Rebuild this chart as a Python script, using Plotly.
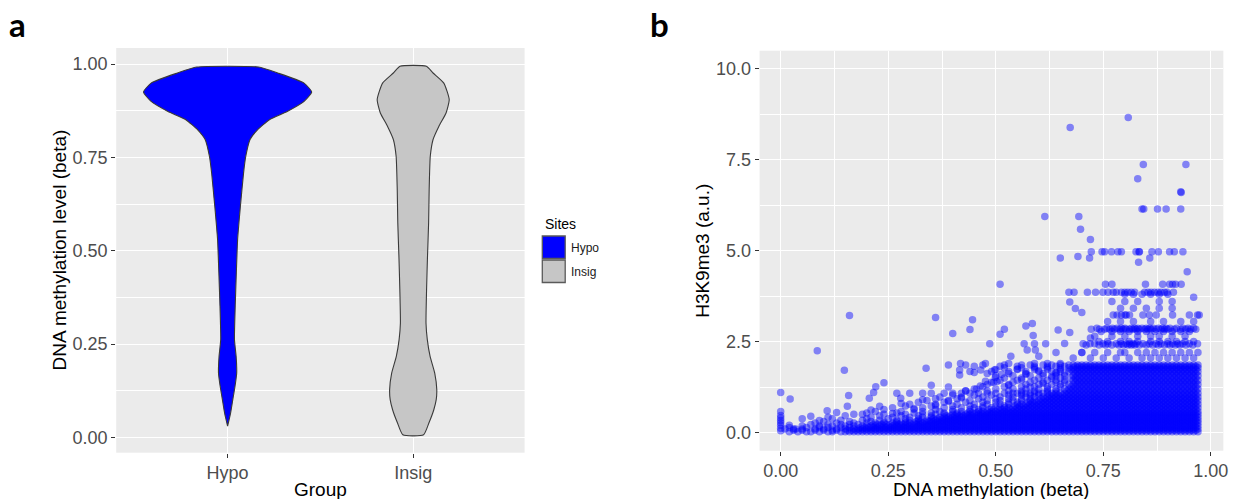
import plotly.graph_objects as go

W, H = 1236, 499

# ---------------- panel a : violin outlines ----------------
GROUPS = ["Hypo", "Insig"]
GROUP_FILL = ["#0000FF", "#C6C6C6"]

# beta level (top -> bottom) and half-width of the violin (category units)
HYPO_BETA = [0.992, 0.976, 0.949, 0.925, 0.900, 0.873, 0.851, 0.824, 0.798,
             0.753, 0.708, 0.619, 0.530, 0.440, 0.351, 0.262, 0.217, 0.172,
             0.137, 0.101, 0.065, 0.030]
HYPO_HALF = [0.166, 0.270, 0.412, 0.453, 0.412, 0.321, 0.225, 0.161, 0.121,
             0.098, 0.086, 0.069, 0.054, 0.047, 0.041, 0.037, 0.046, 0.049,
             0.040, 0.028, 0.016, 0.000]
INSIG_BETA = [0.994, 0.976, 0.949, 0.905, 0.869, 0.833, 0.798, 0.753, 0.664,
              0.574, 0.485, 0.396, 0.306, 0.262, 0.217, 0.172, 0.128, 0.101,
              0.074, 0.039, 0.007]
INSIG_HALF = [0.071, 0.107, 0.165, 0.194, 0.177, 0.138, 0.107, 0.092, 0.086,
              0.083, 0.077, 0.072, 0.069, 0.076, 0.091, 0.116, 0.127, 0.124,
              0.111, 0.085, 0.056]

# ---------------- panel b : DNA methylation vs H3K9me3 ----------------
# isolated observations (beta, H3K9me3)
SPARSE_BETA = [0.673, 0.808, 0.843, 0.942, 0.830, 0.930, 0.931, 0.840, 0.844, 0.876,
               0.896, 0.930, 0.614, 0.693, 0.697, 0.720, 0.650, 0.691, 0.718, 0.832,
               0.858, 0.945, 0.510, 0.960, 0.672, 0.685,
               0.0, 0.0, 0.0, 0.0, 0.0, 0.0, 0.0, 0.0, 0.0, 0.022, 0.085, 0.160,
               0.148, 0.158, 0.206, 0.216, 0.221, 0.240, 0.279,
               0.05, 0.07, 0.09, 0.108, 0.13, 0.155, 0.19, 0.21, 0.23, 0.26, 0.28,
               0.31, 0.33, 0.36, 0.39, 0.42, 0.02, 0.035,
               0.338, 0.360, 0.400, 0.440, 0.446, 0.418, 0.416, 0.416, 0.465, 0.476,
               0.497, 0.503, 0.514, 0.486, 0.510, 0.520, 0.570, 0.585, 0.587, 0.566,
               0.573, 0.590, 0.592, 0.616, 0.645, 0.672, 0.464, 0.476, 0.495, 0.499,
               0.430, 0.455, 0.530, 0.550, 0.560, 0.580, 0.600, 0.620, 0.630, 0.650,
               0.535, 0.600, 0.640, 0.660, 0.700, 0.720, 0.700, 0.39, 0.35, 0.45,
               0.53, 0.57, 0.61, 0.64, 0.59]
SPARSE_H3K9 = [8.39, 8.66, 7.37, 7.37, 6.98, 6.62, 6.60, 6.15, 6.15, 6.15,
               6.15, 6.15, 5.94, 5.94, 5.59, 5.31, 4.80, 4.84, 4.80, 4.68,
               4.80, 4.42, 4.08, 3.72, 3.59, 3.41,
               0.05, 0.12, 0.20, 0.27, 0.33, 0.40, 0.47, 0.58, 1.10, 0.92, 2.25, 3.22,
               1.71, 1.02, 0.94, 1.10, 1.26, 1.37, 0.94,
               0.38, 0.45, 0.33, 0.60, 0.55, 0.72, 0.50, 0.62, 0.72, 0.52, 0.80,
               0.66, 0.90, 0.74, 0.86, 0.95, 0.20, 0.10,
               1.77, 3.16, 2.72, 2.83, 3.10, 1.90, 1.72, 1.58, 1.72, 1.90,
               1.72, 1.40, 1.60, 2.44, 2.70, 2.84, 2.93, 3.00, 2.67, 2.44,
               2.27, 2.44, 2.27, 2.44, 2.82, 2.75, 1.28, 1.41, 1.38, 1.51,
               1.15, 1.20, 1.90, 1.75, 1.45, 1.25, 1.70, 1.90, 1.55, 1.90,
               2.10, 2.10, 2.20, 2.45, 3.30, 2.60, 2.20, 1.25, 1.30, 1.65,
               1.30, 1.60, 1.35, 1.65, 1.90]

# observations sitting on recurring H3K9me3 levels
LEVEL_H3K9 = [4.97, 4.08, 3.86, 3.80, 3.60, 3.42, 3.23, 3.05, 2.87, 2.84, 2.78,
              2.65, 2.50, 2.44, 2.41, 2.20, 2.05]
LEVEL_BETA = [
    [0.722, 0.747, 0.753, 0.769, 0.784, 0.792, 0.826, 0.833, 0.834, 0.863, 0.878, 0.904, 0.915, 0.935],
    [0.755, 0.770, 0.848, 0.888, 0.904, 0.911, 0.918, 0.931],
    [0.670, 0.682, 0.713, 0.732, 0.749, 0.761, 0.773, 0.780, 0.792, 0.800, 0.807, 0.815, 0.823,
     0.846, 0.854, 0.861, 0.869, 0.877, 0.884, 0.892, 0.898, 0.913],
    [0.80, 0.82, 0.84, 0.86, 0.88, 0.90],
    [0.77, 0.80, 0.83, 0.88, 0.91],
    [0.79, 0.82, 0.85, 0.88, 0.91],
    [0.773, 0.782, 0.792, 0.800, 0.803, 0.811, 0.842, 0.857, 0.873, 0.911, 0.950, 0.969, 0.973],
    [0.76, 0.79, 0.82, 0.86, 0.89, 0.93, 0.96],
    [0.735, 0.758, 0.771, 0.782, 0.792, 0.800, 0.815, 0.823, 0.830, 0.840, 0.850, 0.858, 0.866,
     0.878, 0.888, 0.896, 0.905, 0.920, 0.935, 0.947, 0.960],
    [0.722, 0.741, 0.753, 0.765, 0.776, 0.788, 0.796, 0.803, 0.811, 0.819, 0.826, 0.834, 0.846,
     0.854, 0.861, 0.873, 0.884, 0.892, 0.900, 0.915, 0.930, 0.942, 0.953, 0.965],
    [0.745, 0.77, 0.79, 0.81, 0.83, 0.85, 0.87, 0.89, 0.91, 0.93, 0.95],
    [0.73, 0.77, 0.80, 0.83, 0.86, 0.88, 0.91, 0.94],
    [0.74, 0.76, 0.79, 0.81, 0.83, 0.86, 0.88, 0.90, 0.92, 0.94, 0.96],
    [0.703, 0.719, 0.730, 0.749, 0.761, 0.780, 0.792, 0.803, 0.811, 0.819, 0.826, 0.842, 0.857,
     0.873, 0.884, 0.900, 0.911, 0.923, 0.934, 0.950, 0.969],
    [0.710, 0.740, 0.755, 0.770, 0.786, 0.797, 0.807, 0.815, 0.823, 0.834, 0.850, 0.865, 0.878,
     0.892, 0.905, 0.917, 0.928, 0.942, 0.958],
    [0.70, 0.73, 0.76, 0.79, 0.80, 0.83, 0.85, 0.87, 0.89, 0.91, 0.93, 0.95, 0.97],
    [0.68, 0.72, 0.75, 0.78, 0.81, 0.84, 0.86, 0.88, 0.90, 0.92, 0.94, 0.96],
]

# densely populated low-signal band: H3K9me3 level and beta (in percent)
BAND_H3K9 = [0.02, 0.06, 0.10, 0.14, 0.18, 0.22, 0.26, 0.30, 0.34, 0.38,
             0.42, 0.46, 0.50, 0.54, 0.58, 0.63, 0.68, 0.73, 0.78, 0.83,
             0.88, 0.93, 0.98, 1.03, 1.08, 1.14, 1.20, 1.26, 1.32, 1.38,
             1.44, 1.50, 1.56, 1.62, 1.68, 1.73, 1.78, 1.82, 1.86]
BAND_BETA_PCT = [
    # 0.02
    [2, 4, 6, 7, 9, 11, 12, 14, 15, 16, 17, 18, 19, 20, 21, 22, 23, 24, 25, 26, 27, 28, 29, 30,
     31, 32, 33, 34, 35, 36, 37, 38, 39, 40, 41, 42, 43, 44, 45, 46, 47, 48, 49, 50, 51, 52, 53,
     54, 55, 56, 57, 58, 59, 60, 61, 62, 63, 64, 65, 66, 67, 68, 69, 70, 71, 72, 73, 74, 75, 76,
     77, 78, 79, 80, 81, 82, 83, 84, 85, 86, 87, 88, 89, 90, 91, 92, 93, 94, 95, 96, 97],
    # 0.06
    [3, 5, 8, 10, 12, 13, 15.5, 16.5, 17.5, 18.5, 19.5, 20.5, 21.5, 22.5, 23.5, 24.5, 25.5, 26.5,
     27.5, 28.5, 29.5, 30.5, 31.5, 32.5, 33.5, 34.5, 35.5, 36.5, 37.5, 38.5, 39.5, 40.5, 41.5,
     42.5, 43.5, 44.5, 45.5, 46.5, 47.5, 48.5, 49.5, 50.5, 51.5, 52.5, 53.5, 54.5, 55.5, 56.5,
     57.5, 58.5, 59.5, 60.5, 61.5, 62.5, 63.5, 64.5, 65.5, 66.5, 67.5, 68.5, 69.5, 70.5, 71.5,
     72.5, 73.5, 74.5, 75.5, 76.5, 77.5, 78.5, 79.5, 80.5, 81.5, 82.5, 83.5, 84.5, 85.5, 86.5,
     87.5, 88.5, 89.5, 90.5, 91.5, 92.5, 93.5, 94.5, 95.5, 96.5],
    # 0.10
    [1, 3, 5, 8, 10, 13, 15, 17, 18, 19, 20, 21, 22, 23, 24, 25, 26, 27, 28, 29, 30, 31, 32, 33,
     34, 35, 36, 37, 38, 39, 40, 41, 42, 43, 44, 45, 46, 47, 48, 49, 50, 51, 52, 53, 54, 55, 56,
     57, 58, 59, 60, 61, 62, 63, 64, 65, 66, 67, 68, 69, 70, 71, 72, 73, 74, 75, 76, 77, 78, 79,
     80, 81, 82, 83, 84, 85, 86, 87, 88, 89, 90, 91, 92, 93, 94, 95, 96, 97],
    # 0.14
    [2, 6, 9, 11, 14, 16, 18.5, 19.5, 20.5, 21.5, 22.5, 23.5, 24.5, 25.5, 26.5, 27.5, 28.5, 29.5,
     30.5, 31.5, 32.5, 33.5, 34.5, 35.5, 36.5, 37.5, 38.5, 39.5, 40.5, 41.5, 42.5, 43.5, 44.5,
     45.5, 46.5, 47.5, 48.5, 49.5, 50.5, 51.5, 52.5, 53.5, 54.5, 55.5, 56.5, 57.5, 58.5, 59.5,
     60.5, 61.5, 62.5, 63.5, 64.5, 65.5, 66.5, 67.5, 68.5, 69.5, 70.5, 71.5, 72.5, 73.5, 74.5,
     75.5, 76.5, 77.5, 78.5, 79.5, 80.5, 81.5, 82.5, 83.5, 84.5, 85.5, 86.5, 87.5, 88.5, 89.5,
     90.5, 91.5, 92.5, 93.5, 94.5, 95.5, 96.5],
    # 0.18
    [5, 9, 12, 15, 17, 19, 20, 21, 22, 23, 24, 25, 26, 27, 28, 29, 30, 31, 32, 33, 34, 35, 36, 37,
     38, 39, 40, 41, 42, 43, 44, 45, 46, 47, 48, 49, 50, 51, 52, 53, 54, 55, 56, 57, 58, 59, 60,
     61, 62, 63, 64, 65, 66, 67, 68, 69, 70, 71, 72, 73, 74, 75, 76, 77, 78, 79, 80, 81, 82, 83,
     84, 85, 86, 87, 88, 89, 90, 91, 92, 93, 94, 95, 96, 97],
    # 0.22
    [7, 11, 14, 16, 18, 21.5, 22.5, 23.5, 24.5, 25.5, 26.5, 27.5, 28.5, 29.5, 30.5, 31.5, 32.5,
     33.5, 34.5, 35.5, 36.5, 37.5, 38.5, 39.5, 40.5, 41.5, 42.5, 43.5, 44.5, 45.5, 46.5, 47.5,
     48.5, 49.5, 50.5, 51.5, 52.5, 53.5, 54.5, 55.5, 56.5, 57.5, 58.5, 59.5, 60.5, 61.5, 62.5,
     63.5, 64.5, 65.5, 66.5, 67.5, 68.5, 69.5, 70.5, 71.5, 72.5, 73.5, 74.5, 75.5, 76.5, 77.5,
     78.5, 79.5, 80.5, 81.5, 82.5, 83.5, 84.5, 85.5, 86.5, 87.5, 88.5, 89.5, 90.5, 91.5, 92.5,
     93.5, 94.5, 95.5, 96.5],
    # 0.26
    [8, 13, 17, 20, 22, 24, 26, 27, 28, 29, 30, 31, 32, 33, 34, 35, 36, 37, 38, 39, 40, 41, 42,
     43, 44, 45, 46, 47, 48, 49, 50, 51, 52, 53, 54, 55, 56, 57, 58, 59, 60, 61, 62, 63, 64, 65,
     66, 67, 68, 69, 70, 71, 72, 73, 74, 75, 76, 77, 78, 79, 80, 81, 82, 83, 84, 85, 86, 87, 88,
     89, 90, 91, 92, 93, 94, 95, 96, 97],
    # 0.30
    [10, 16, 21, 24, 27, 29, 31.5, 32.5, 33.5, 34.5, 35.5, 36.5, 37.5, 38.5, 39.5, 40.5, 41.5,
     42.5, 43.5, 44.5, 45.5, 46.5, 47.5, 48.5, 49.5, 50.5, 51.5, 52.5, 53.5, 54.5, 55.5, 56.5,
     57.5, 58.5, 59.5, 60.5, 61.5, 62.5, 63.5, 64.5, 65.5, 66.5, 67.5, 68.5, 69.5, 70.5, 71.5,
     72.5, 73.5, 74.5, 75.5, 76.5, 77.5, 78.5, 79.5, 80.5, 81.5, 82.5, 83.5, 84.5, 85.5, 86.5,
     87.5, 88.5, 89.5, 90.5, 91.5, 92.5, 93.5, 94.5, 95.5, 96.5],
    # 0.34
    [14, 19, 23, 27, 30, 32, 34, 35, 36, 37, 38, 39, 40, 41, 42, 43, 44, 45, 46, 47, 48, 49, 50,
     51, 52, 53, 54, 55, 56, 57, 58, 59, 60, 61, 62, 63, 64, 65, 66, 67, 68, 69, 70, 71, 72, 73,
     74, 75, 76, 77, 78, 79, 80, 81, 82, 83, 84, 85, 86, 87, 88, 89, 90, 91, 92, 93, 94, 95, 96, 97],
    # 0.38
    [12, 20, 25, 29, 32, 35.5, 36.5, 37.5, 38.5, 39.5, 40.5, 41.5, 42.5, 43.5, 44.5, 45.5, 46.5,
     47.5, 48.5, 49.5, 50.5, 51.5, 52.5, 53.5, 54.5, 55.5, 56.5, 57.5, 58.5, 59.5, 60.5, 61.5,
     62.5, 63.5, 64.5, 65.5, 66.5, 67.5, 68.5, 69.5, 70.5, 71.5, 72.5, 73.5, 74.5, 75.5, 76.5,
     77.5, 78.5, 79.5, 80.5, 81.5, 82.5, 83.5, 84.5, 85.5, 86.5, 87.5, 88.5, 89.5, 90.5, 91.5,
     92.5, 93.5, 94.5, 95.5, 96.5],
    # 0.42
    [11, 21, 26, 30, 33, 35, 37, 38, 39, 40, 41, 42, 43, 44, 45, 46, 47, 48, 49, 50, 51, 52, 53,
     54, 55, 56, 57, 58, 59, 60, 61, 62, 63, 64, 65, 66, 67, 68, 69, 70, 71, 72, 73, 74, 75, 76,
     77, 78, 79, 80, 81, 82, 83, 84, 85, 86, 87, 88, 89, 90, 91, 92, 93, 94, 95, 96, 97],
    # 0.46
    [15, 23, 28, 32, 35, 38.5, 39.5, 40.5, 41.5, 42.5, 43.5, 44.5, 45.5, 46.5, 47.5, 48.5, 49.5,
     50.5, 51.5, 52.5, 53.5, 54.5, 55.5, 56.5, 57.5, 58.5, 59.5, 60.5, 61.5, 62.5, 63.5, 64.5,
     65.5, 66.5, 67.5, 68.5, 69.5, 70.5, 71.5, 72.5, 73.5, 74.5, 75.5, 76.5, 77.5, 78.5, 79.5,
     80.5, 81.5, 82.5, 83.5, 84.5, 85.5, 86.5, 87.5, 88.5, 89.5, 90.5, 91.5, 92.5, 93.5, 94.5,
     95.5, 96.5],
    # 0.50
    [17, 24, 29, 33, 36, 38, 40, 41, 42, 43, 44, 45, 46, 47, 48, 49, 50, 51, 52, 53, 54, 55, 56,
     57, 58, 59, 60, 61, 62, 63, 64, 65, 66, 67, 68, 69, 70, 71, 72, 73, 74, 75, 76, 77, 78, 79,
     80, 81, 82, 83, 84, 85, 86, 87, 88, 89, 90, 91, 92, 93, 94, 95, 96, 97],
    # 0.54
    [20, 27, 31, 35, 38, 41, 43.5, 44.5, 45.5, 46.5, 47.5, 48.5, 49.5, 50.5, 51.5, 52.5, 53.5,
     54.5, 55.5, 56.5, 57.5, 58.5, 59.5, 60.5, 61.5, 62.5, 63.5, 64.5, 65.5, 66.5, 67.5, 68.5,
     69.5, 70.5, 71.5, 72.5, 73.5, 74.5, 75.5, 76.5, 77.5, 78.5, 79.5, 80.5, 81.5, 82.5, 83.5,
     84.5, 85.5, 86.5, 87.5, 88.5, 89.5, 90.5, 91.5, 92.5, 93.5, 94.5, 95.5, 96.5],
    # 0.58
    [22, 28, 33, 37, 40, 42, 44, 46, 47, 48, 49, 50, 51, 52, 53, 54, 55, 56, 57, 58, 59, 60, 61,
     62, 63, 64, 65, 66, 67, 68, 69, 70, 71, 72, 73, 74, 75, 76, 77, 78, 79, 80, 81, 82, 83, 84,
     85, 86, 87, 88, 89, 90, 91, 92, 93, 94, 95, 96, 97],
    # 0.63
    [24, 31, 36, 40, 44, 46, 48.5, 49.5, 50.5, 51.5, 52.5, 53.5, 54.5, 55.5, 56.5, 57.5, 58.5,
     59.5, 60.5, 61.5, 62.5, 63.5, 64.5, 65.5, 66.5, 67.5, 68.5, 69.5, 70.5, 71.5, 72.5, 73.5,
     74.5, 75.5, 76.5, 77.5, 78.5, 79.5, 80.5, 81.5, 82.5, 83.5, 84.5, 85.5, 86.5, 87.5, 88.5,
     89.5, 90.5, 91.5, 92.5, 93.5, 94.5, 95.5, 96.5],
    # 0.68
    [26, 33, 38, 42, 45, 47, 49, 51, 52, 53, 54, 55, 56, 57, 58, 59, 60, 61, 62, 63, 64, 65, 66,
     67, 68, 69, 70, 71, 72, 73, 74, 75, 76, 77, 78, 79, 80, 81, 82, 83, 84, 85, 86, 87, 88, 89,
     90, 91, 92, 93, 94, 95, 96, 97],
    # 0.73
    [29, 35, 40, 44, 47, 50, 52, 54.5, 55.5, 56.5, 57.5, 58.5, 59.5, 60.5, 61.5, 62.5, 63.5,
     64.5, 65.5, 66.5, 67.5, 68.5, 69.5, 70.5, 71.5, 72.5, 73.5, 74.5, 75.5, 76.5, 77.5, 78.5,
     79.5, 80.5, 81.5, 82.5, 83.5, 84.5, 85.5, 86.5, 87.5, 88.5, 89.5, 90.5, 91.5, 92.5, 93.5,
     94.5, 95.5, 96.5],
    # 0.78
    [30, 36, 41, 45, 48, 51, 53, 55, 56, 57, 58, 59, 60, 61, 62, 63, 64, 65, 66, 67, 68, 69, 70,
     71, 72, 73, 74, 75, 76, 77, 78, 79, 80, 81, 82, 83, 84, 85, 86, 87, 88, 89, 90, 91, 92, 93,
     94, 95, 96, 97],
    # 0.83
    [32, 38, 43, 47, 50, 53, 55, 57.5, 58.5, 59.5, 60.5, 61.5, 62.5, 63.5, 64.5, 65.5, 66.5,
     67.5, 68.5, 69.5, 70.5, 71.5, 72.5, 73.5, 74.5, 75.5, 76.5, 77.5, 78.5, 79.5, 80.5, 81.5,
     82.5, 83.5, 84.5, 85.5, 86.5, 87.5, 88.5, 89.5, 90.5, 91.5, 92.5, 93.5, 94.5, 95.5, 96.5],
    # 0.88
    [34, 39, 44, 48, 51, 54, 56, 58, 59, 60, 61, 62, 63, 64, 65, 66, 67, 68, 69, 70, 71, 72, 73,
     74, 75, 76, 77, 78, 79, 80, 81, 82, 83, 84, 85, 86, 87, 88, 89, 90, 91, 92, 93, 94, 95, 96, 97],
    # 0.93
    [36, 41, 46, 50, 53, 56, 58, 60.5, 61.5, 62.5, 63.5, 64.5, 65.5, 66.5, 67.5, 68.5, 69.5,
     70.5, 71.5, 72.5, 73.5, 74.5, 75.5, 76.5, 77.5, 78.5, 79.5, 80.5, 81.5, 82.5, 83.5, 84.5,
     85.5, 86.5, 87.5, 88.5, 89.5, 90.5, 91.5, 92.5, 93.5, 94.5, 95.5, 96.5],
    # 0.98
    [37, 42, 47, 51, 54, 57, 59, 61, 62, 63, 64, 65, 66, 67, 68, 69, 70, 71, 72, 73, 74, 75, 76,
     77, 78, 79, 80, 81, 82, 83, 84, 85, 86, 87, 88, 89, 90, 91, 92, 93, 94, 95, 96, 97],
    # 1.03
    [40, 45, 49, 53, 56, 58, 60, 62.5, 63.5, 64.5, 65.5, 66.5, 67.5, 68.5, 69.5, 70.5, 71.5,
     72.5, 73.5, 74.5, 75.5, 76.5, 77.5, 78.5, 79.5, 80.5, 81.5, 82.5, 83.5, 84.5, 85.5, 86.5,
     87.5, 88.5, 89.5, 90.5, 91.5, 92.5, 93.5, 94.5, 95.5, 96.5],
    # 1.08
    [27, 30, 33, 35, 38, 40, 42, 44, 46, 48, 50, 52, 54, 55, 56, 57, 58, 59, 60, 61, 62, 63, 64,
     65, 66, 67, 68, 69, 70, 71, 72, 73, 74, 75, 76, 77, 78, 79, 80, 81, 82, 83, 84, 85, 86, 87,
     88, 89, 90, 91, 92, 93, 94, 95, 96, 97],
    # 1.14
    [43, 48, 53, 56, 59, 62, 64, 66.5, 67.5, 68.5, 69.5, 70.5, 71.5, 72.5, 73.5, 74.5, 75.5,
     76.5, 77.5, 78.5, 79.5, 80.5, 81.5, 82.5, 83.5, 84.5, 85.5, 86.5, 87.5, 88.5, 89.5, 90.5,
     91.5, 92.5, 93.5, 94.5, 95.5, 96.5],
    # 1.20
    [45, 50, 54, 57, 60, 62, 64, 66, 67, 68, 69, 70, 71, 72, 73, 74, 75, 76, 77, 78, 79, 80, 81,
     82, 83, 84, 85, 86, 87, 88, 89, 90, 91, 92, 93, 94, 95, 96, 97],
    # 1.26
    [47, 52, 56, 59, 62, 65, 67.5, 68.5, 69.5, 70.5, 71.5, 72.5, 73.5, 74.5, 75.5, 76.5, 77.5,
     78.5, 79.5, 80.5, 81.5, 82.5, 83.5, 84.5, 85.5, 86.5, 87.5, 88.5, 89.5, 90.5, 91.5, 92.5,
     93.5, 94.5, 95.5, 96.5],
    # 1.32
    [48, 53, 57, 60, 63, 65, 67, 68, 69, 70, 71, 72, 73, 74, 75, 76, 77, 78, 79, 80, 81, 82, 83,
     84, 85, 86, 87, 88, 89, 90, 91, 92, 93, 94, 95, 96, 97],
    # 1.38
    [49, 54, 58, 61, 64, 66, 68.5, 69.5, 70.5, 71.5, 72.5, 73.5, 74.5, 75.5, 76.5, 77.5, 78.5,
     79.5, 80.5, 81.5, 82.5, 83.5, 84.5, 85.5, 86.5, 87.5, 88.5, 89.5, 90.5, 91.5, 92.5, 93.5,
     94.5, 95.5, 96.5],
    # 1.44
    [51, 55, 59, 62, 64, 66, 68, 69, 70, 71, 72, 73, 74, 75, 76, 77, 78, 79, 80, 81, 82, 83, 84,
     85, 86, 87, 88, 89, 90, 91, 92, 93, 94, 95, 96, 97],
    # 1.50
    [52, 56, 60, 63, 65, 67.5, 68.5, 69.5, 70.5, 71.5, 72.5, 73.5, 74.5, 75.5, 76.5, 77.5, 78.5,
     79.5, 80.5, 81.5, 82.5, 83.5, 84.5, 85.5, 86.5, 87.5, 88.5, 89.5, 90.5, 91.5, 92.5, 93.5,
     94.5, 95.5, 96.5],
    # 1.56
    [50, 54, 58, 61, 64, 66, 68, 69, 70, 71, 72, 73, 74, 75, 76, 77, 78, 79, 80, 81, 82, 83, 84,
     85, 86, 87, 88, 89, 90, 91, 92, 93, 94, 95, 96, 97],
    # 1.62
    [48, 53, 57, 61, 64, 66, 68.5, 69.5, 70.5, 71.5, 72.5, 73.5, 74.5, 75.5, 76.5, 77.5, 78.5,
     79.5, 80.5, 81.5, 82.5, 83.5, 84.5, 85.5, 86.5, 87.5, 88.5, 89.5, 90.5, 91.5, 92.5, 93.5,
     94.5, 95.5, 96.5],
    # 1.68
    [44, 49, 53, 57, 60, 63, 65, 67, 68, 69, 70, 71, 72, 73, 74, 75, 76, 77, 78, 79, 80, 81, 82,
     83, 84, 85, 86, 87, 88, 89, 90, 91, 92, 93, 94, 95, 96, 97],
    # 1.73
    [50, 55, 59, 62, 65, 67.5, 68.5, 69.5, 70.5, 71.5, 72.5, 73.5, 74.5, 75.5, 76.5, 77.5, 78.5,
     79.5, 80.5, 81.5, 82.5, 83.5, 84.5, 85.5, 86.5, 87.5, 88.5, 89.5, 90.5, 91.5, 92.5, 93.5,
     94.5, 95.5, 96.5],
    # 1.78
    [52, 56, 59, 62, 65, 67, 68, 69, 70, 71, 72, 73, 74, 75, 76, 77, 78, 79, 80, 81, 82, 83, 84,
     85, 86, 87, 88, 89, 90, 91, 92, 93, 94, 95, 96, 97],
    # 1.82
    [45, 51, 55, 59, 62, 64, 66, 68.5, 69.5, 70.5, 71.5, 72.5, 73.5, 74.5, 75.5, 76.5, 77.5,
     78.5, 79.5, 80.5, 81.5, 82.5, 83.5, 84.5, 85.5, 86.5, 87.5, 88.5, 89.5, 90.5, 91.5, 92.5,
     93.5, 94.5, 95.5, 96.5],
    # 1.86
    [39, 43, 47, 52, 56, 58, 61, 63, 65, 67, 68, 69, 70, 71, 72, 73, 74, 75, 76, 77, 78, 79, 80,
     81, 82, 83, 84, 85, 86, 87, 88, 89, 90, 91, 92, 93, 94, 95, 96, 97],
]

# ---------------- styling ----------------
TICK_FONT = dict(family="Liberation Sans", size=18, color="#4D4D4D")
TITLE_FONT = dict(family="Liberation Sans", size=19, color="#000000")
OUTLINE = "#3A3A3A"


def px(x):
    return x / W


def py(y):
    return 1 - y / H


fig = go.Figure()

# violins drawn as closed outlines around each group's position
for pos, (name, fill, beta, half) in enumerate(
        zip(GROUPS, GROUP_FILL, [HYPO_BETA, INSIG_BETA], [HYPO_HALF, INSIG_HALF]), start=1):
    xs = [pos + h for h in half] + [pos - h for h in half[::-1]]
    ys = list(beta) + list(beta[::-1])
    xs.append(xs[0])
    ys.append(ys[0])
    fig.add_trace(go.Scatter(
        x=xs, y=ys, mode="lines", fill="toself", fillcolor=fill, name=name,
        line=dict(color=OUTLINE, width=1.1, shape="spline", smoothing=0.5),
        xaxis="x", yaxis="y", hoverinfo="skip", showlegend=False))

# scatter points of panel b
pts_x, pts_y = [], []
for lvl, row in zip(BAND_H3K9, BAND_BETA_PCT):
    pts_x += [v / 100 for v in row]
    pts_y += [lvl] * len(row)
for lvl, row in zip(LEVEL_H3K9, LEVEL_BETA):
    pts_x += row
    pts_y += [lvl] * len(row)
pts_x += SPARSE_BETA
pts_y += SPARSE_H3K9

fig.add_trace(go.Scatter(
    x=pts_x, y=pts_y, mode="markers",
    marker=dict(color="#0000FF", opacity=0.45, size=7.5, line=dict(width=0)),
    xaxis="x2", yaxis="y2", hoverinfo="skip", showlegend=False))

axis_common = dict(
    showline=False, zeroline=False, ticks="outside", ticklen=4, tickwidth=1,
    tickcolor="#333333", gridcolor="#FFFFFF", gridwidth=1.1, tickfont=TICK_FONT,
    fixedrange=True)
minor_grid = dict(showgrid=True, gridcolor="#FFFFFF", gridwidth=0.55, ticks="")

fig.update_layout(
    width=W, height=H, margin=dict(l=0, r=0, t=0, b=0),
    paper_bgcolor="#FFFFFF", plot_bgcolor="#EBEBEB", showlegend=False,
    xaxis=dict(domain=[px(116.7), px(526.7)], range=[0.4, 2.6], tickvals=[1, 2],
               ticktext=GROUPS, anchor="y", **axis_common),
    yaxis=dict(domain=[py(452.7), py(48)], range=[-0.041, 1.043], tick0=0, dtick=0.25,
               tickformat=".2f", minor=dict(dtick=0.125, **minor_grid), anchor="x",
               **axis_common),
    xaxis2=dict(domain=[px(762.7), px(1228.3)], range=[-0.049, 1.029], tick0=0, dtick=0.25,
                tickformat=".2f", minor=dict(dtick=0.125, **minor_grid), anchor="y2",
                **axis_common),
    yaxis2=dict(domain=[py(450.7), py(50.7)], range=[-0.5, 10.5], tick0=0, dtick=2.5,
                tickformat=".1f", minor=dict(dtick=1.25, **minor_grid), anchor="x2",
                **axis_common),
)

annotations = [
    dict(text="Group", x=px(321.7), y=py(489), font=TITLE_FONT),
    dict(text="DNA methylation level (beta)", x=px(59.4), y=py(250.3), textangle=-90,
         font=TITLE_FONT),
    dict(text="DNA methylation (beta)", x=px(995.5), y=py(489.3), font=TITLE_FONT),
    dict(text="H3K9me3 (a.u.)", x=px(706), y=py(250.7), textangle=-90, font=TITLE_FONT),
    dict(text="<b>a</b>", x=px(17.7), y=py(24.2),
         font=dict(family="Lato", size=33, color="#000000")),
    dict(text="<b>b</b>", x=px(662.5), y=py(24.5),
         font=dict(family="Lato", size=33, color="#000000")),
    dict(text="Sites", x=px(545), y=py(224), xanchor="left",
         font=dict(family="Liberation Sans", size=14, color="#000000")),
]
for i, name in enumerate(GROUPS):
    annotations.append(dict(text=name, x=px(571.5), y=py(248 + 24 * i), xanchor="left",
                            font=dict(family="Liberation Sans", size=12, color="#1A1A1A")))
for a in annotations:
    a.setdefault("xanchor", "center")
    a.update(xref="paper", yref="paper", yanchor="middle", showarrow=False)
fig.update_layout(annotations=annotations)

# legend keys
shapes = []
for i, fill in enumerate(GROUP_FILL):
    shapes.append(dict(type="rect", xref="paper", yref="paper",
                       x0=px(544.5), x1=px(567.5), y0=py(258.5 + 24 * i), y1=py(236 + 24 * i),
                       fillcolor=fill, line=dict(color="#5A5A5A", width=1.3)))
fig.update_layout(shapes=shapes)

fig.write_html("out.html", config=dict(displayModeBar=False))
